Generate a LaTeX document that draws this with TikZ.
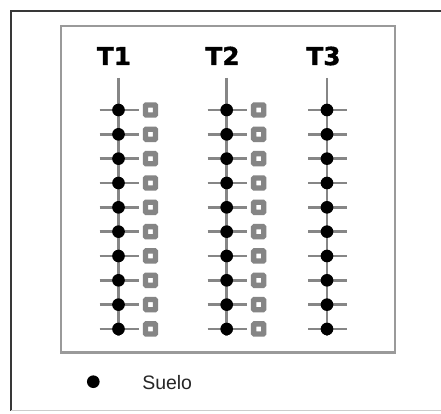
\documentclass[tikz,border=0pt]{standalone}
\usepackage{fontspec}
\setmainfont{Liberation Sans}
\newfontfamily\titlefont[BoldFeatures={FakeBold=1.6}]{DejaVu Sans}
\definecolor{stemgray}{HTML}{868686}
\definecolor{sqgray}{HTML}{858585}
\definecolor{boxgray}{HTML}{9A9A9A}
\definecolor{framedark}{HTML}{383838}
\tikzset{
  stem/.style={draw=stemgray, line width=2.1pt},
  gdot/.style={circle, fill=black, inner sep=0pt, minimum size=9.5pt},
  gsq/.style={rectangle, draw=sqgray, fill=white, line width=4pt, inner sep=0pt, minimum size=7.6pt, rounded corners=0.6pt},
  ttl/.style={inner sep=0pt, anchor=base, font=\titlefont\bfseries\fontsize{18.5pt}{20pt}\selectfont},
  lbl/.style={inner sep=0pt, anchor=base west, font=\fontsize{14.6pt}{17pt}\selectfont, text=black!85},
}
\begin{document}
\begin{tikzpicture}[x=0.75pt,y=-0.75pt]
\useasboundingbox (0,0) rectangle (441,413);
\fill[white] (0,0) rectangle (441,413);
% outer frame
\draw[framedark, line width=2.2pt] (470,11) -- (11,11) -- (11,411);
\draw[black!20, line width=0.8pt] (11,410.7) -- (470,410.7);
% inner box
\draw[boxgray, line width=1.6pt] (61,26) rectangle (395,352.5);
% titles
\node[ttl] (t1) at (114,65) {T1};
\node[ttl] (t2) at (222.5,65) {T2};
\node[ttl] (t3) at (323.5,65) {T3};
% columns
\foreach \c/\x/\sq in {1/118.5/1, 2/226.7/1, 3/327/0}{
  \coordinate (top\c) at (\x,78);
  \coordinate (bot\c) at (\x,336);
  \draw[stem] (top\c) -- (bot\c);
  \foreach \i in {0,...,9}{
    \pgfmathsetmacro\yy{110+\i*24.33}
    \coordinate (l\c-\i) at (\x-19,\yy);
    \coordinate (r\c-\i) at (\x+20,\yy);
    \draw[stem] (l\c-\i) -- (r\c-\i);
    \node[gdot] (d\c-\i) at (\x,\yy) {};
    \ifnum\sq=1
      \node[gsq] (s\c-\i) at (\x+32,\yy) {};
    \fi
  }
}
% legend
\node[gdot] (ldot) at (93.3,381.7) {};
\node[lbl] (ltext) at (142,389) {Suelo};
\end{tikzpicture}
\end{document}
